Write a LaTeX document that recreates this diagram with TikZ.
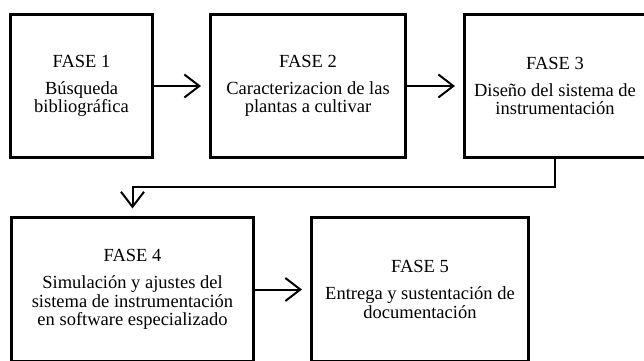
\documentclass[tikz,border=0pt]{standalone}
\usepackage{fontspec}
\setmainfont{Liberation Serif}
\usetikzlibrary{arrows.meta}
\begin{document}
\begin{tikzpicture}[x=1pt, y=1pt,
            fase/.style={thick, shape=rectangle, draw=black, line width=2.6pt, minimum height=143.5pt, align=center, font=\fontsize{18.5}{18.8}\selectfont},
            flecha/.style={line width=2pt, -{Straight Barb[length=15pt, width=23pt, line width=2pt]}, shorten >=8pt}]
            \useasboundingbox (0,0) rectangle (644,360);
            \clip (0,0) rectangle (644,360);
            \node[fase, minimum width=142.4pt](1) at (81.5,274) {FASE 1\\[8pt]Búsqueda\\bibliográfica};
            \node[fase, minimum width=195.4pt](2) at (308,274)  {FASE 2\\[8pt]Caracterizacion de las\\plantas a cultivar};
            \node[fase, minimum width=181.4pt](3) at (555,274)  {FASE 3\\[8pt]Diseño del sistema de\\instrumentación};
            \node[fase, minimum width=242.4pt](4) at (132.5,70.5) {FASE 4\\[8pt]Simulación y ajustes del\\sistema de instrumentación\\en software especializado};
            \node[fase, minimum width=217.4pt](5) at (420,70.5) {FASE 5\\[8pt]Entrega y sustentación de\\documentación};
            \draw[flecha] (1.east) -- (2.west);
            \draw[flecha] (2.east) -- (3.west);
            \draw[flecha] (3.south) -- ++(0,-28) -| (4.north);
            \draw[flecha] (4.east) -- (5.west);
        \end{tikzpicture}
\end{document}
